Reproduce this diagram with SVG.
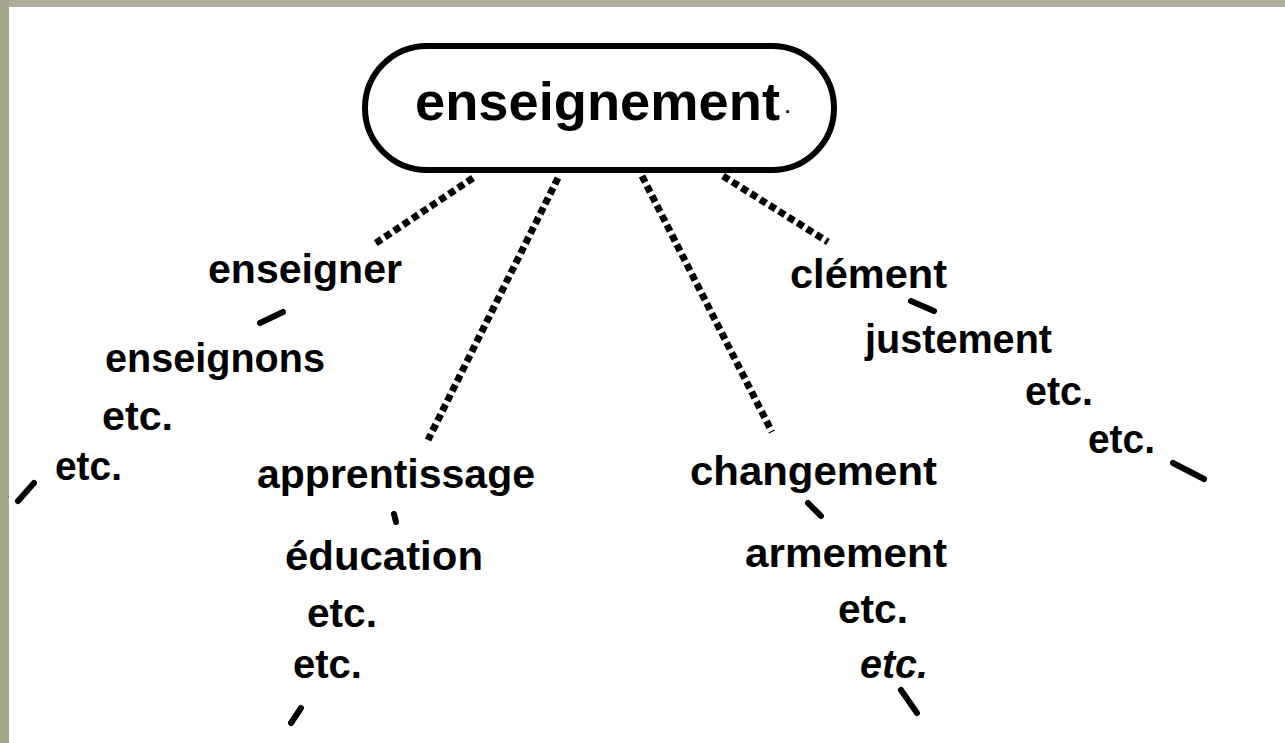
<svg xmlns="http://www.w3.org/2000/svg" width="1285" height="743" viewBox="0 0 1285 743">
<style>
.lbl{font-family:"Liberation Sans",Arial,sans-serif;font-weight:bold;font-size:41px;fill:#000}
.ttl{font-family:"Liberation Sans",Arial,sans-serif;font-weight:bold;font-size:54px;fill:#000}
.dot{stroke:#000;stroke-width:7;fill:none;stroke-dasharray:7 4}
.mark{stroke:#000;stroke-width:6;fill:none;stroke-linecap:round}
</style>
<rect x="0" y="0" width="1285" height="743" fill="#ffffff"/>
<rect x="0" y="0" width="1285" height="7" fill="#b1ae9b"/>
<rect x="0" y="0" width="9" height="743" fill="#a3a28b"/>
<g id="connectors">
<line class="dot" x1="473" y1="178" x2="373" y2="245"/>
<line class="dot" x1="558" y1="178" x2="428" y2="440"/>
<line class="dot" x1="642" y1="176" x2="772" y2="432"/>
<line class="dot" x1="723" y1="176" x2="828" y2="242"/>
<line class="mark" x1="260" y1="323" x2="283" y2="312"/>
<line class="mark" x1="18" y1="501" x2="34" y2="483"/>
<line class="mark" x1="394" y1="514" x2="396" y2="522"/>
<line class="mark" x1="291" y1="723" x2="301" y2="708"/>
<line class="mark" x1="808" y1="503" x2="821" y2="516"/>
<line class="mark" x1="901" y1="690" x2="917" y2="713"/>
<line class="mark" x1="911" y1="301" x2="934" y2="311"/>
<line class="mark" x1="1173" y1="463" x2="1204" y2="479"/>
</g>
<g id="node-enseignement">
<rect x="365" y="46" width="469" height="124" rx="62" ry="62" fill="none" stroke="#000" stroke-width="6"/>
<text class="ttl" x="415" y="120"><tspan textLength="365" lengthAdjust="spacingAndGlyphs">enseignement</tspan><tspan font-size="18" dx="5" dy="-7">.</tspan></text>
</g>
<g id="node-enseigner"><text class="lbl" x="208" y="283" textLength="194" lengthAdjust="spacingAndGlyphs">enseigner</text></g>
<g id="node-enseignons"><text class="lbl" x="105" y="372" textLength="220" lengthAdjust="spacingAndGlyphs">enseignons</text></g>
<g id="node-etc-1a"><text class="lbl" x="102" y="430" textLength="71" lengthAdjust="spacingAndGlyphs">etc.</text></g>
<g id="node-etc-1b"><text class="lbl" x="55" y="480" textLength="67" lengthAdjust="spacingAndGlyphs">etc.</text></g>
<g id="node-apprentissage"><text class="lbl" x="257" y="488" textLength="278" lengthAdjust="spacingAndGlyphs">apprentissage</text></g>
<g id="node-education"><text class="lbl" x="285" y="570" textLength="198" lengthAdjust="spacingAndGlyphs">éducation</text></g>
<g id="node-etc-2a"><text class="lbl" x="307" y="627" textLength="70" lengthAdjust="spacingAndGlyphs">etc.</text></g>
<g id="node-etc-2b"><text class="lbl" x="293" y="678" textLength="69" lengthAdjust="spacingAndGlyphs">etc.</text></g>
<g id="node-changement"><text class="lbl" x="690" y="485" textLength="247" lengthAdjust="spacingAndGlyphs">changement</text></g>
<g id="node-armement"><text class="lbl" x="745" y="567" textLength="202" lengthAdjust="spacingAndGlyphs">armement</text></g>
<g id="node-etc-3a"><text class="lbl" x="838" y="623" textLength="70" lengthAdjust="spacingAndGlyphs">etc.</text></g>
<g id="node-etc-3b"><text class="lbl" x="860" y="678" textLength="68" lengthAdjust="spacingAndGlyphs" font-style="italic">etc.</text></g>
<g id="node-clement"><text class="lbl" x="790" y="288" textLength="157" lengthAdjust="spacingAndGlyphs">clément</text></g>
<g id="node-justement"><text class="lbl" x="865" y="353" textLength="187" lengthAdjust="spacingAndGlyphs">justement</text></g>
<g id="node-etc-4a"><text class="lbl" x="1025" y="405" textLength="68" lengthAdjust="spacingAndGlyphs">etc.</text></g>
<g id="node-etc-4b"><text class="lbl" x="1088" y="453" textLength="67" lengthAdjust="spacingAndGlyphs">etc.</text></g>
</svg>
